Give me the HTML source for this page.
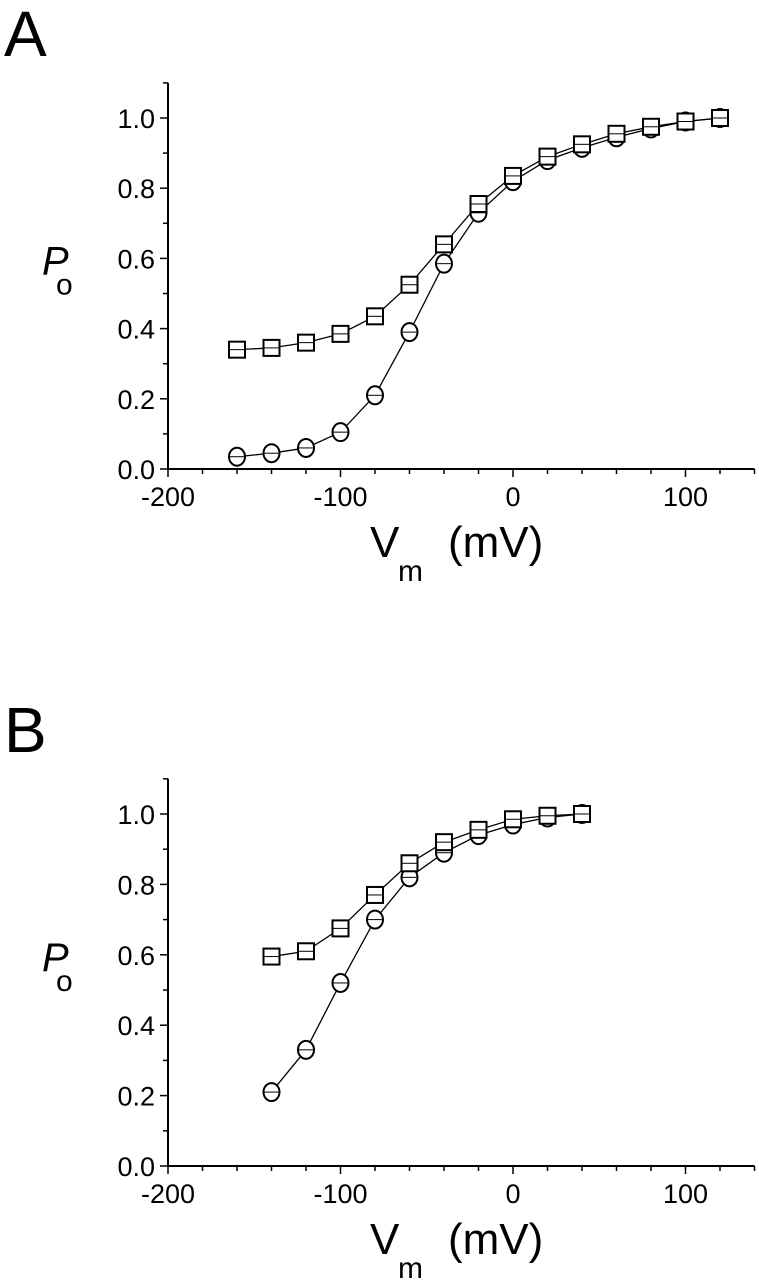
<!DOCTYPE html>
<html><head><meta charset="utf-8"><style>
html,body{margin:0;padding:0;background:#fff;}
svg{display:block;font-family:"Liberation Sans",sans-serif;}
</style></head><body>
<svg id="fig" width="759" height="1280" viewBox="0 0 759 1280"></svg>
<script>
const xTicks = [-200, -100, 0, 100];
const yTicks = [0.0, 0.2, 0.4, 0.6, 0.8, 1.0];
const aVoltages = [-160,-140,-120,-100,-80,-60,-40,-20,0,20,40,60,80,100,120];
const aSquares = [0.34,0.345,0.36,0.385,0.435,0.525,0.64,0.755,0.835,0.89,0.925,0.955,0.975,0.99,1.0];
const aCircles = [0.035,0.045,0.06,0.105,0.21,0.39,0.585,0.73,0.82,0.88,0.915,0.945,0.97,0.99,1.0];
const bVoltages = [-140,-120,-100,-80,-60,-40,-20,0,20,40];
const bSquares = [0.595,0.61,0.675,0.77,0.86,0.92,0.955,0.985,0.995,1.0];
const bCircles = [0.21,0.33,0.52,0.70,0.82,0.89,0.94,0.97,0.99,1.0];

const NS = "http://www.w3.org/2000/svg";
const svg = document.getElementById('fig');
function mk(tag, attrs, parent){
  const e = document.createElementNS(NS, tag);
  for (const k in attrs) e.setAttribute(k, attrs[k]);
  (parent||svg).appendChild(e);
  return e;
}
function panel(letter, y0, y1, volts, sq, ci){
  const g = mk('g', {});
  
  
  const X = v => 168 + (v + 200) * 1.725;
  const Y = p => y0 - p * (y0 - y1);
  const top = Y(1.1), right = X(140);
  const ax = mk('path', {d:`M168 ${top} V${y0} H${right}`, fill:'none', stroke:'#000', 'stroke-width':2}, g);
  
  
  for (let v = -200; v <= 140; v += 20) {
    const major = v % 100 === 0;
    mk('line', {x1:X(v), x2:X(v), y1:y0, y2:y0 + (major ? 8 : 5), stroke:'#000', 'stroke-width':1.5}, g);
  }
  for (let p = 0; p <= 1.1001; p += 0.1) {
    const major = Math.round(p * 10) % 2 === 0;
    mk('line', {x1:168, x2:168 - (major ? 8 : 5), y1:Y(p), y2:Y(p), stroke:'#000', 'stroke-width':1.5}, g);
  }
  xTicks.forEach(v => {
    const t = mk('text', {x:X(v), y:y0 + 37, 'font-size':27, 'text-anchor':'middle'}, g);
    t.textContent = v;
    
    
  });
  yTicks.forEach(p => {
    const t = mk('text', {x:155, y:Y(p) + 10, 'font-size':27, 'text-anchor':'end'}, g);
    t.textContent = p.toFixed(1);
    
    
  });
  const L = mk('text', {x:4, y:y1 - 62, 'font-size':64}, g);
  L.textContent = letter;
  
  
  const yt = mk('text', {x:42, y:Y(0.6) + 16, 'font-size':40, 'font-style':'italic'}, g);
  yt.textContent = 'P';
  
  
  const ys = mk('text', {x:56, y:Y(0.6) + 36, 'font-size':30}, g);
  ys.textContent = 'o';
  
  
  const xt = mk('text', {x:370, y:y0 + 88, 'font-size':44}, g);
  xt.textContent = 'V';
  
  
  const xs = mk('text', {x:398, y:y0 + 112, 'font-size':30}, g);
  xs.textContent = 'm';
  
  
  const xu = mk('text', {x:448, y:y0 + 88, 'font-size':44}, g);
  xu.textContent = '(mV)';
  
  
  const sLine = mk('polyline', {points: volts.map((v,i)=>X(v)+','+Y(sq[i])).join(' '), fill:'none', stroke:'#000', 'stroke-width':1.3}, g);
  
  
  const cLine = mk('polyline', {points: volts.map((v,i)=>X(v)+','+Y(ci[i])).join(' '), fill:'none', stroke:'#000', 'stroke-width':1.3}, g);
  
  
  volts.forEach((v,i) => {
    const c = mk('ellipse', {cx:X(v), cy:Y(ci[i]), rx:8, ry:9, fill:'#fff', stroke:'#000', 'stroke-width':2}, g);
    
    
    mk('line', {x1:X(v)-8, x2:X(v)+8, y1:Y(ci[i]), y2:Y(ci[i]), stroke:'#000', 'stroke-width':1}, g);
  });
  volts.forEach((v,i) => {
    const s = mk('rect', {x:X(v)-8, y:Y(sq[i])-8, width:16, height:16, fill:'#fff', stroke:'#000', 'stroke-width':2}, g);
    
    
    mk('line', {x1:X(v)-8, x2:X(v)+8, y1:Y(sq[i]), y2:Y(sq[i]), stroke:'#000', 'stroke-width':1}, g);
  });
}
panel('A', 469, 118, aVoltages, aSquares, aCircles);
panel('B', 1166, 814, bVoltages, bSquares, bCircles);
</script>
</body></html>
